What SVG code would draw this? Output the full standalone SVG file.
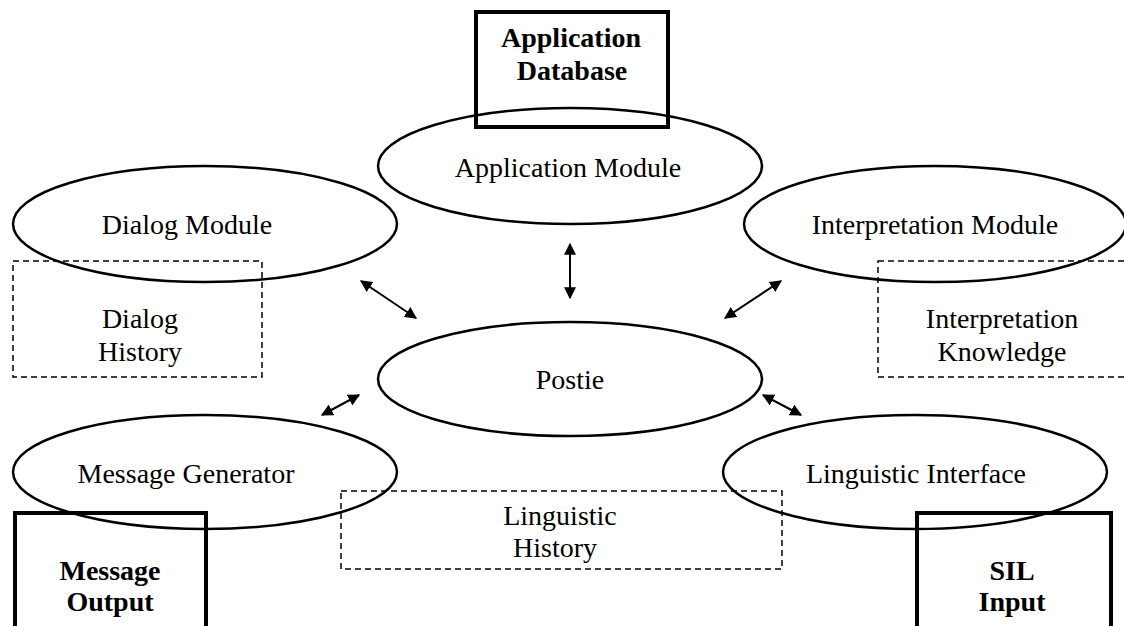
<svg xmlns="http://www.w3.org/2000/svg" width="1124" height="626" viewBox="0 0 1124 626">
<style>
.bg{fill:#fff}
.ell{fill:none;stroke:#000;stroke-width:2.5}
.box{fill:none;stroke:#000;stroke-width:4}
.dash{fill:none;stroke:#000;stroke-width:1.5;stroke-dasharray:6 4}
.t{font-family:"Liberation Serif","Times New Roman",serif;font-size:28px;fill:#000;text-anchor:middle}
.b{font-family:"Liberation Serif","Times New Roman",serif;font-size:28px;font-weight:bold;fill:#000;text-anchor:middle}
.arr{stroke:#000;stroke-width:2;fill:none;marker-start:url(#ah);marker-end:url(#ah)}
</style>
<defs>
<marker id="ah" viewBox="0 0 10 10" refX="9" refY="5" markerWidth="6" markerHeight="6" orient="auto-start-reverse" markerUnits="strokeWidth">
<path d="M0,0 L10,5 L0,10 z" fill="#000"/>
</marker>
</defs>
<rect class="bg" x="0" y="0" width="1124" height="626"/>
<g id="app-db"><rect class="box" x="476" y="12" width="192" height="115"/><text class="b" x="571" y="47">Application</text><text class="b" x="572" y="80">Database</text></g>
<g id="app-module"><ellipse class="ell" cx="570" cy="166" rx="192" ry="58"/><text class="t" x="568" y="177">Application Module</text></g>
<g id="dialog-module"><ellipse class="ell" cx="205" cy="224" rx="192" ry="58"/><text class="t" x="187" y="234">Dialog Module</text></g>
<g id="interp-module"><ellipse class="ell" cx="935" cy="224" rx="191" ry="58"/><text class="t" x="935" y="234">Interpretation Module</text></g>
<g id="dialog-history"><rect class="dash" x="13" y="261" width="249" height="116"/><text class="t" x="140" y="328">Dialog</text><text class="t" x="140" y="361">History</text></g>
<g id="interp-knowledge"><rect class="dash" x="878" y="261" width="250" height="116"/><text class="t" x="1002" y="328">Interpretation</text><text class="t" x="1002" y="361">Knowledge</text></g>
<g id="postie"><ellipse class="ell" cx="570" cy="379" rx="192" ry="57"/><text class="t" x="570" y="389">Postie</text></g>
<g id="msg-gen"><ellipse class="ell" cx="205" cy="472" rx="192" ry="57"/><text class="t" x="186" y="483">Message Generator</text></g>
<g id="ling-interface"><ellipse class="ell" cx="915" cy="472" rx="192" ry="57"/><text class="t" x="916" y="483">Linguistic Interface</text></g>
<g id="ling-history"><rect class="dash" x="341" y="491" width="441" height="78"/><text class="t" x="560" y="525">Linguistic</text><text class="t" x="555" y="557">History</text></g>
<g id="msg-output"><rect class="box" x="15" y="513" width="191" height="120"/><text class="b" x="110" y="580">Message</text><text class="b" x="110" y="611">Output</text></g>
<g id="sil-input"><rect class="box" x="917" y="513" width="194" height="120"/><text class="b" x="1012" y="580">SIL</text><text class="b" x="1012" y="611">Input</text></g>
<g id="connectors">
<line class="arr" x1="361" y1="281" x2="416" y2="318"/>
<line class="arr" x1="570" y1="244" x2="570" y2="298"/>
<line class="arr" x1="781" y1="281" x2="725" y2="318"/>
<line class="arr" x1="359" y1="395" x2="322" y2="415"/>
<line class="arr" x1="763" y1="395" x2="801" y2="415"/>
</g>
</svg>
